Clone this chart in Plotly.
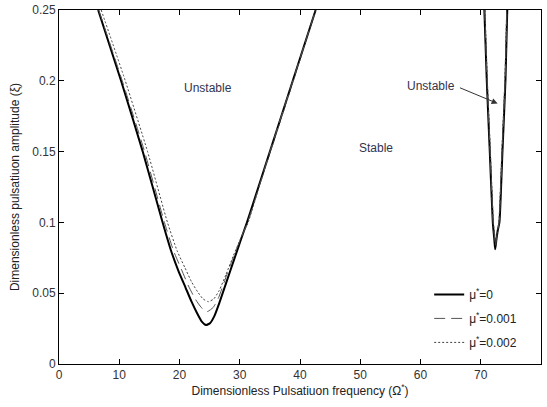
import plotly.graph_objects as go

# mu* = 0 (solid)
mu0_left_x = [6.5, 10.3, 13.9, 17.2, 18.6, 19.8, 21.0, 22.0, 22.9, 23.7, 24.4, 25.1, 25.8, 26.6, 27.8, 29.0, 30.2, 31.2, 33.1, 35.0, 38.8, 42.6]
mu0_left_y = [0.25, 0.20, 0.15, 0.10, 0.080, 0.066, 0.054, 0.044, 0.036, 0.030, 0.0275, 0.029, 0.034, 0.043, 0.058, 0.073, 0.088, 0.10, 0.125, 0.15, 0.20, 0.25]
mu0_right_x = [70.6, 71.0, 71.5, 72.0, 72.25, 72.4, 72.6, 72.85, 73.1, 73.6, 74.1, 74.4]
mu0_right_y = [0.25, 0.20, 0.15, 0.10, 0.088, 0.081, 0.088, 0.095, 0.10, 0.15, 0.20, 0.25]

# mu* = 0.001 (dashed)
mu1_left_x = [6.6, 10.5, 14.2, 17.5, 19.0, 20.3, 21.5, 22.6, 23.6, 24.6, 25.6, 26.5, 27.6, 28.8, 30.1, 31.3, 33.2, 35.0, 38.8, 42.6]
mu1_left_y = [0.25, 0.20, 0.15, 0.10, 0.080, 0.067, 0.055, 0.046, 0.040, 0.037, 0.040, 0.047, 0.060, 0.074, 0.088, 0.10, 0.125, 0.15, 0.20, 0.25]
mu1_right_x = [70.65, 71.05, 71.55, 72.05, 72.3, 72.45, 72.6, 72.85, 73.05, 73.55, 74.05, 74.35]
mu1_right_y = [0.25, 0.20, 0.15, 0.10, 0.089, 0.083, 0.089, 0.095, 0.10, 0.15, 0.20, 0.25]

# mu* = 0.002 (dotted)
mu2_left_x = [7.0, 11.0, 14.7, 18.0, 19.6, 20.9, 22.0, 23.0, 23.9, 24.8, 25.7, 26.6, 27.7, 28.9, 30.2, 31.4, 33.2, 35.1, 38.9, 42.6]
mu2_left_y = [0.25, 0.20, 0.15, 0.10, 0.080, 0.068, 0.058, 0.051, 0.046, 0.044, 0.046, 0.052, 0.063, 0.076, 0.089, 0.10, 0.125, 0.15, 0.20, 0.25]
mu2_right_x = [70.7, 71.1, 71.6, 72.1, 72.35, 72.5, 72.65, 72.85, 73.0, 73.5, 74.0, 74.3]
mu2_right_y = [0.25, 0.20, 0.15, 0.10, 0.090, 0.085, 0.090, 0.096, 0.10, 0.15, 0.20, 0.25]

series_names = ["μ<sup>*</sup>=0", "μ<sup>*</sup>=0.001", "μ<sup>*</sup>=0.002"]
x_ticks = [0, 10, 20, 30, 40, 50, 60, 70, 80]
y_ticks = [0, 0.05, 0.1, 0.15, 0.2, 0.25]
y_tick_labels = ["0", "0.05", "0.1", "0.15", "0.2", "0.25"]

fig = go.Figure()
data = [
    (mu0_left_x, mu0_left_y, mu0_right_x, mu0_right_y, dict(color="black", width=2, dash="solid")),
    (mu1_left_x, mu1_left_y, mu1_right_x, mu1_right_y, dict(color="#555555", width=1, dash="11px,6px")),
    (mu2_left_x, mu2_left_y, mu2_right_x, mu2_right_y, dict(color="#444444", width=1, dash="2px,2px")),
]
for i, (name, (lx, ly, rx, ry, ln)) in enumerate(zip(series_names, data)):
    fig.add_trace(go.Scatter(
        x=lx + [None] + rx, y=ly + [None] + ry, mode="lines", name=name,
        legendgroup=f"g{i}",
        line=dict(shape="spline", smoothing=0.5, **ln), connectgaps=False,
    ))

txt_color = "#33334d"
fig.add_annotation(x=24.7, y=0.195, text="Unstable", showarrow=False,
                   font=dict(size=12, color=txt_color))
fig.add_annotation(x=52.6, y=0.1525, text="Stable", showarrow=False,
                   font=dict(size=12, color=txt_color))
fig.add_annotation(x=61.7, y=0.196, text="Unstable", showarrow=False,
                   font=dict(size=12, color=txt_color))
fig.add_annotation(x=72.8, y=0.184, ax=66.3, ay=0.1955, axref="x", ayref="y",
                   text="", showarrow=True, arrowhead=2, arrowsize=1.2,
                   arrowwidth=1, arrowcolor="#333333")

axis_common = dict(showline=True, linecolor="black", linewidth=1, mirror="ticks",
                   ticks="inside", ticklen=5, tickcolor="black", showgrid=False,
                   zeroline=False, automargin=False,
                   tickfont=dict(size=12, color="#333333"))
fig.update_xaxes(range=[0, 80], tickvals=x_ticks,
                 title=dict(text="Dimensionless Pulsatiuon frequency (Ω<sup>*</sup>)",
                            font=dict(size=12, color="#222222"), standoff=1),
                 **axis_common)
fig.update_yaxes(range=[0, 0.25], tickvals=y_ticks, ticktext=y_tick_labels,
                 title=dict(text="Dimensionless pulsatiuon amplitude (ξ)",
                            font=dict(size=12, color="#222222"), standoff=10),
                 **axis_common)

fig.update_layout(
    width=547, height=407,
    margin=dict(l=59, r=6, t=10, b=43),
    paper_bgcolor="white", plot_bgcolor="white",
    font=dict(family="Liberation Sans, Arial, sans-serif", size=12, color="#222222"),
    legend=dict(x=0.768, y=0.02, xanchor="left", yanchor="bottom",
                bgcolor="rgba(0,0,0,0)", borderwidth=0, font=dict(size=12),
                traceorder="grouped", tracegroupgap=5),
    showlegend=True,
)

fig.write_html("out.html", config={"displayModeBar": False},
               post_script="document.body.style.margin='0';document.body.style.overflow='hidden';")
